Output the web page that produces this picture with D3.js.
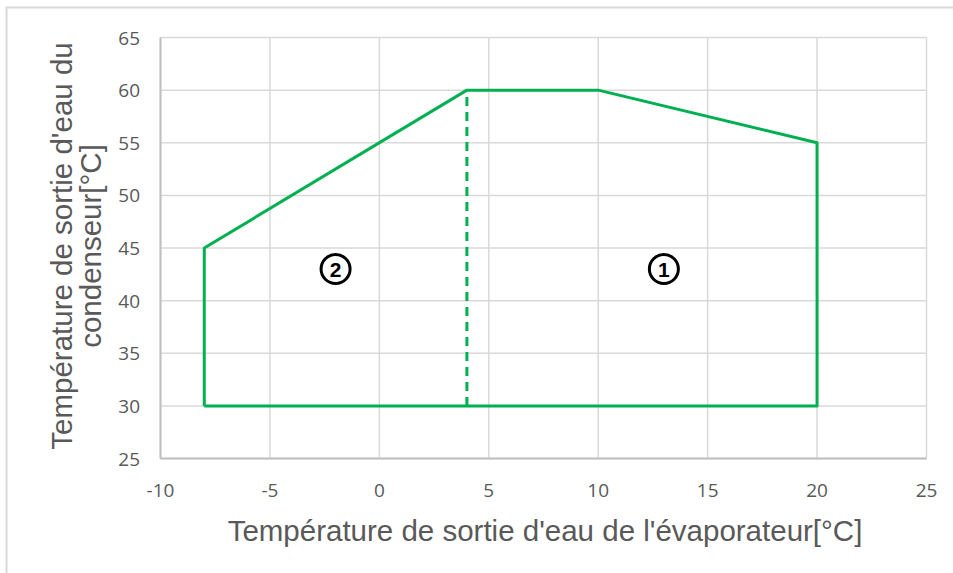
<!DOCTYPE html>
<html>
<head>
<meta charset="utf-8">
<script src="https://cdn.jsdelivr.net/npm/d3@7"></script>
<style>
  body { margin: 0; background: #fff; }
  svg { display: block; }
</style>
</head>
<body>
<svg id="chart"></svg>
<script>
// envelope of the operating range
var envelopeX = [-8, -8, 4, 10, 20, 20, -8];
var envelopeY = [30, 45, 60, 60, 55, 30, 30];
// split between zone 1 and zone 2
var splitX = [4, 4];
var splitY = [30, 60];
// zone labels
var zoneNames = ["2", "1"];
var zoneX = [-2, 13];
var zoneY = [43, 43];
var xTicks = [-10, -5, 0, 5, 10, 15, 20, 25];
var yTicks = [25, 30, 35, 40, 45, 50, 55, 60, 65];

function run(){
  var W = 953, H = 573;
  var svg = d3.select("#chart").attr("width", W).attr("height", H);

  // outer frame
  svg.append("rect")
     .attr("x", 6.5).attr("y", 7.5)
     .attr("width", W + 10).attr("height", H + 10)
     .style("fill", "none")
     .style("stroke", "#d9d9d9")
     .style("stroke-width", 2);

  var x = d3.scaleLinear().domain([-10, 25]).range([160.5, 926.5]);
  var y = d3.scaleLinear().domain([25, 65]).range([458.5, 37.5]);

  // gridlines
  svg.append("g").selectAll("line").data(xTicks).enter().append("line")
     .attr("x1", function(d){ return x(d); }).attr("x2", function(d){ return x(d); })
     .attr("y1", y(25)).attr("y2", y(65))
     .style("stroke", "#d9d9d9").style("stroke-width", 1.5);
  svg.append("g").selectAll("line").data(yTicks).enter().append("line")
     .attr("x1", x(-10)).attr("x2", x(25))
     .attr("y1", function(d){ return y(d); }).attr("y2", function(d){ return y(d); })
     .style("stroke", "#d9d9d9").style("stroke-width", 1.5);

  // axis lines
  svg.append("line").attr("x1", x(-10)).attr("x2", x(25)).attr("y1", y(25)).attr("y2", y(25))
     .style("stroke", "#bfbfbf").style("stroke-width", 2);
  svg.append("line").attr("x1", x(-10)).attr("x2", x(-10)).attr("y1", y(25)).attr("y2", y(65))
     .style("stroke", "#bfbfbf").style("stroke-width", 2);

  // tick labels
  svg.append("g").selectAll("text").data(xTicks).enter().append("text")
     .attr("x", function(d){ return x(d); }).attr("y", 497)
     .attr("text-anchor", "middle")
     .style("font-family", "'Open Sans', sans-serif").style("font-size", "19px")
     .style("fill", "#595959")
     .text(function(d){ return d; });
  svg.append("g").selectAll("text").data(yTicks).enter().append("text")
     .attr("x", 140).attr("y", function(d){ return y(d) + 7; })
     .attr("text-anchor", "end")
     .style("font-family", "'Open Sans', sans-serif").style("font-size", "19px")
     .style("fill", "#595959")
     .text(function(d){ return d; });

  // axis titles
  svg.append("text")
     .attr("x", 545).attr("y", 541)
     .attr("text-anchor", "middle")
     .style("font-family", "'Liberation Sans', Arial, sans-serif").style("font-size", "29.5px")
     .style("fill", "#595959")
     .text("Température de sortie d'eau de l'évaporateur[°C]");
  var yt = svg.append("text")
     .attr("transform", "translate(0,246) rotate(-90)")
     .attr("text-anchor", "middle")
     .style("font-family", "'Liberation Sans', Arial, sans-serif").style("font-size", "29.5px")
     .style("fill", "#595959");
  yt.append("tspan").attr("x", 0).attr("y", 72).text("Température de sortie d'eau du");
  yt.append("tspan").attr("x", 0).attr("y", 101).text("condenseur[°C]");

  var line = d3.line()
     .x(function(d){ return x(d[0]); })
     .y(function(d){ return y(d[1]); });

  svg.append("path")
     .datum(d3.zip(envelopeX, envelopeY))
     .attr("d", line)
     .style("fill", "none").style("stroke", "#00b050").style("stroke-width", 3)
     .style("stroke-linejoin", "round");
  svg.append("path")
     .datum(d3.zip(splitX, splitY))
     .attr("d", line)
     .style("fill", "none").style("stroke", "#00b050").style("stroke-width", 3)
     .style("stroke-dasharray", "9,6");

  // circled zone numbers
  var zones = svg.append("g").selectAll("g").data(d3.zip(zoneNames, zoneX, zoneY)).enter().append("g")
     .attr("transform", function(d){ return "translate(" + x(d[1]) + "," + y(d[2]) + ")"; });
  zones.append("circle").attr("r", 14.5)
     .style("fill", "#fff").style("stroke", "#000").style("stroke-width", 3);
  zones.append("text").attr("y", 7.5)
     .attr("text-anchor", "middle")
     .style("font-family", "'Liberation Sans', Arial, sans-serif").style("font-size", "21px")
     .style("font-weight", "bold")
     .text(function(d){ return d[0]; });
}
run();
</script>
</body>
</html>
